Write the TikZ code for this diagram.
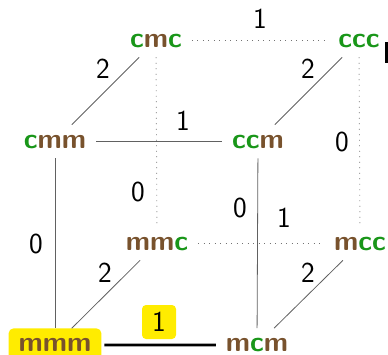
\documentclass[tikz,border=0pt]{standalone}
\usepackage{xcolor}
\definecolor{cgreen}{RGB}{25,150,25}
\definecolor{mbrown}{RGB}{120,82,45}
\definecolor{hiyellow}{RGB}{255,236,0}
\newcommand\ltrC{\textcolor{cgreen}{c}}
\newcommand\ltrM{\textcolor{mbrown}{m}}
\begin{document}
\begin{tikzpicture}[x=1pt,y=-1pt,
  state/.style={font=\fontsize{28}{32}\selectfont\sffamily\bfseries,
                inner sep=10pt, outer sep=0pt, anchor=base},
  lbl/.style={font=\fontsize{29}{32}\selectfont\sffamily, inner sep=0pt},
  solid edge/.style={draw=black!62, line width=0.8pt},
  dot edge/.style={draw=black!55, line width=0.9pt, dash pattern=on 0.9pt off 4.6pt},
  bold edge/.style={draw=black, line width=2.8pt},
  hilite/.style={fill=hiyellow, rounded corners=5pt}]
\useasboundingbox (0,0) rectangle (388,354);

% corners of the cube
\node[state] (cmc) at (156,47)  {\ltrC\ltrM\ltrC};
\node[state] (ccc) at (359,47)  {\ltrC\ltrC\ltrC};
\node[state] (cmm) at (55,148)  {\ltrC\ltrM\ltrM};
\node[state] (ccm) at (258,148) {\ltrC\ltrC\ltrM};
\node[state] (mmc) at (157,250) {\ltrM\ltrM\ltrC};
\node[state] (mcc) at (360,250) {\ltrM\ltrC\ltrC};
\node[state, hilite] (mmm) at (55,351.5) {\ltrM\ltrM\ltrM};
\node[state] (mcm) at (257,351.5) {\ltrM\ltrC\ltrM};

% hidden edges
\draw[dot edge] (cmc) -- (ccc);
\draw[dot edge] (cmc) -- (mmc);
\draw[dot edge] (ccc) -- (mcc);
\draw[dot edge] (mmc) -- (mcc);

% visible edges
\draw[solid edge] (cmc) -- (cmm);
\draw[solid edge] (ccc) -- (ccm);
\draw[solid edge] (cmm) -- (ccm);
\draw[solid edge] (cmm) -- (mmm);
\draw[solid edge] (ccm) -- (mcm);
\draw[solid edge] (mmc) -- (mmm);
\draw[solid edge] (mcc) -- (mcm);
\draw[bold edge, shorten <=3pt] (mmm) -- (mcm);

% edge weights
\node[lbl] (w1) at (260,19)  {1};
\node[lbl] (w2) at (103,69)  {2};
\node[lbl] (w3) at (308,69)  {2};
\node[lbl] (w4) at (183,121) {1};
\node[lbl] (w5) at (342,142) {0};
\node[lbl] (w6) at (138,192) {0};
\node[lbl] (w7) at (240,208) {0};
\node[lbl] (w8) at (36,244)  {0};
\node[lbl] (w9) at (284,218) {1};
\node[lbl] (w10) at (105,273) {2};
\node[lbl] (w11) at (308,273) {2};
\node[lbl, fill=hiyellow, rounded corners=4pt, minimum width=34pt, minimum height=34pt]
  (w12) at (159,322) {1};

% stray mark at the right border
\fill (385,42) rectangle (388,63);
\end{tikzpicture}
\end{document}
